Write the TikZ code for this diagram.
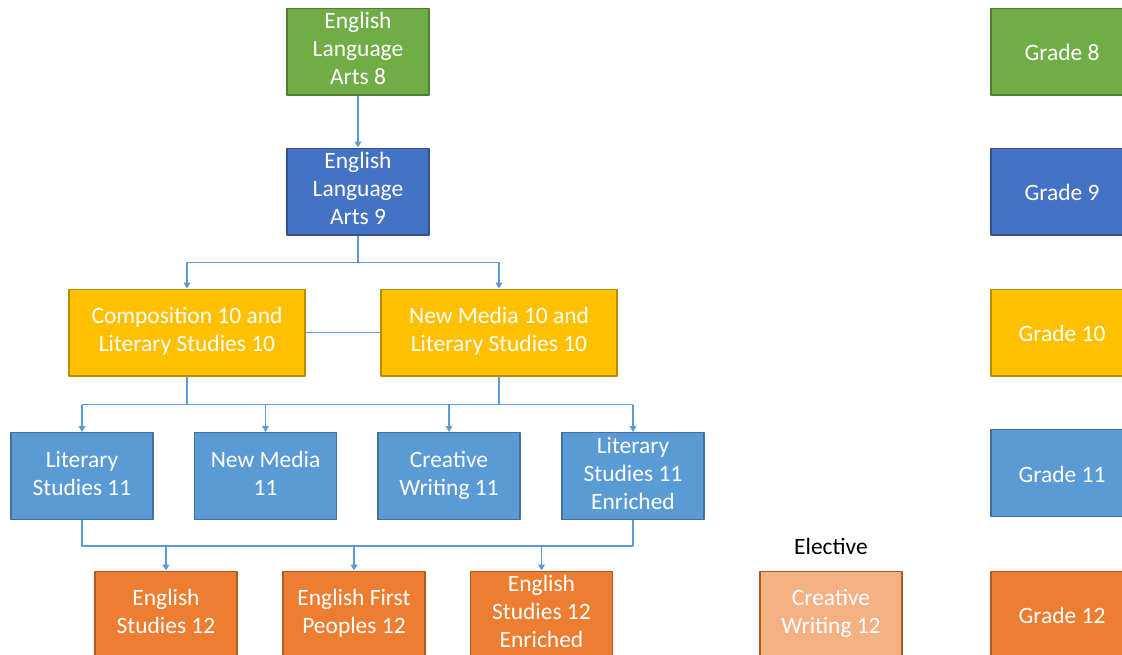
\documentclass[tikz,border=0pt]{standalone}
\usepackage{fontspec}
\setmainfont{Carlito}
\usetikzlibrary{arrows.meta}
\definecolor{gradeeight}{HTML}{70AD47}
\definecolor{gradeeightline}{HTML}{507E32}
\definecolor{gradenine}{HTML}{4472C4}
\definecolor{gradenineline}{HTML}{2F528F}
\definecolor{gradeten}{HTML}{FFC000}
\definecolor{gradetenline}{HTML}{BC8C00}
\definecolor{gradeeleven}{HTML}{5B9BD5}
\definecolor{gradeelevenline}{HTML}{41719C}
\definecolor{gradetwelve}{HTML}{ED7D31}
\definecolor{gradetwelveline}{HTML}{AE5A21}
\definecolor{electfill}{HTML}{F4B183}
\definecolor{linkcol}{HTML}{5B9BD5}
\newcommand{\boxstrut}{\rule[-4.5pt]{0pt}{22.5pt}}
\begin{document}
\begin{tikzpicture}[x=0.75pt,y=-0.75pt,line join=round,>={Triangle[width=5pt,length=4.5pt]}]
		\tikzset{box/.style={draw,line width=1pt,minimum width=106.5pt,minimum height=65pt,inner sep=0pt,
				text=white,align=center,font=\fontsize{17.6}{21}\selectfont,
				execute at begin node=\boxstrut,execute at end node=\boxstrut},
			wide/.style={box,minimum width=177pt},
			g8/.style={box,fill=gradeeight,draw=gradeeightline},
			g9/.style={box,fill=gradenine,draw=gradenineline},
			g10/.style={fill=gradeten,draw=gradetenline},
			g11/.style={box,fill=gradeeleven,draw=gradeelevenline},
			g12/.style={box,fill=gradetwelve,draw=gradetwelveline},
			link/.style={draw=linkcol,line width=0.8pt}}
		\useasboundingbox (0,0) rectangle (1122,654);
		\clip (0,0) rectangle (1122,654);
		% courses
		\node[g8] (ela8) at (358,51.5) {English\\Language\\Arts 8};
		\node[g9] (ela9) at (358,191.5) {English\\Language\\Arts 9};
		\node[wide,g10] (comp10) at (187,332.5) {Composition 10 and\\Literary Studies 10};
		\node[wide,g10] (nm10) at (499,332.5) {New Media 10 and\\Literary Studies 10};
		\node[g11] (ls11) at (82,476) {Literary\\Studies 11};
		\node[g11] (nm11) at (265.5,476) {New Media\\11};
		\node[g11] (cw11) at (449,476) {Creative\\Writing 11};
		\node[g11] (ls11e) at (633,476) {Literary\\Studies 11\\Enriched};
		\node[g12] (es12) at (166,614.5) {English\\Studies 12};
		\node[g12] (efp12) at (354,614.5) {English First\\Peoples 12};
		\node[g12] (es12e) at (541.5,614.5) {English\\Studies 12\\Enriched};
		\node[g12,fill=electfill] (cw12) at (831,614.5) {Creative\\Writing 12};
		\node[font=\fontsize{17.6}{21}\selectfont] (elect) at (831,546) {Elective};
		% grade key
		\node[g8] (key8) at (1062,51.5) {Grade 8};
		\node[g9] (key9) at (1062,191.5) {Grade 9};
		\node[box,g10] (key10) at (1062,332.5) {Grade 10};
		\node[g11] (key11) at (1062,473) {Grade 11};
		\node[g12] (key12) at (1062,614.5) {Grade 12};
		% connectors
		\draw[link,->] (ela8) -- (ela9);
		\draw[link] (ela9.south) -- ++(0,27) coordinate (j9);
		\draw[link,->] (j9) -| (comp10);
		\draw[link,->] (j9) -| (nm10);
		\draw[link] (comp10.east) -- (nm10.west);
		\draw[link] (comp10.south) -- ++(0,28) coordinate (j10);
		\draw[link] (nm10.south) -- (nm10 |- j10);
		\draw[link] (ls11 |- j10) -- (ls11e |- j10);
		\foreach \n in {ls11,nm11,cw11,ls11e}
		\draw[link,->] (\n |- j10) -- (\n);
		\draw[link] (ls11.south) -- ++(0,26) coordinate (j11) -| (ls11e.south);
		\foreach \n in {es12,efp12,es12e}
		\draw[link,->] (\n |- j11) -- (\n);
\end{tikzpicture}
\end{document}
